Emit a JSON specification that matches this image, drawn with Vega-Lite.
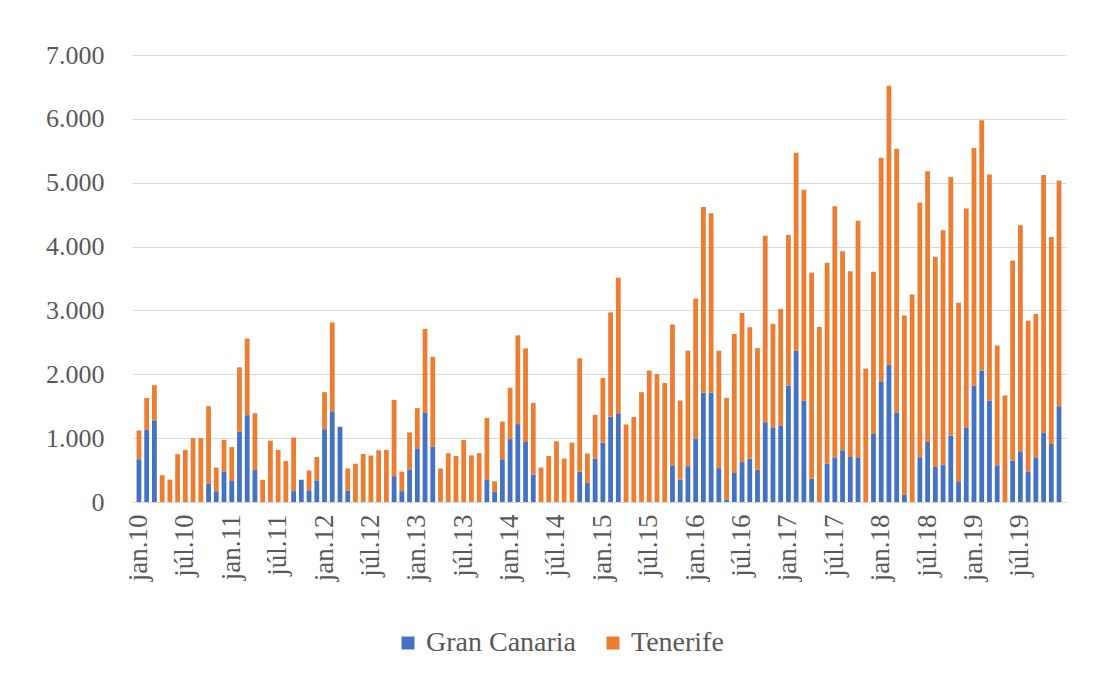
{
  "$schema": "https://vega.github.io/schema/vega-lite/v6.json",
  "width": 934,
  "height": 447,
  "autosize": {"type": "pad"},
  "padding": {"left": 45, "top": 42, "right": 5, "bottom": 5},
  "background": "white",
  "config": {"font": "Liberation Serif", "view": {"stroke": null}},
  "data": {
    "values": [
      {"m": "jan.10", "Gran Canaria": 670, "Tenerife": 450},
      {"m": "feb.10", "Gran Canaria": 1130, "Tenerife": 500},
      {"m": "mar.10", "Gran Canaria": 1280, "Tenerife": 550},
      {"m": "apr.10", "Gran Canaria": 0, "Tenerife": 420},
      {"m": "maí.10", "Gran Canaria": 0, "Tenerife": 350},
      {"m": "jún.10", "Gran Canaria": 0, "Tenerife": 750},
      {"m": "júl.10", "Gran Canaria": 0, "Tenerife": 815},
      {"m": "ágú.10", "Gran Canaria": 0, "Tenerife": 1000},
      {"m": "sep.10", "Gran Canaria": 0, "Tenerife": 1000},
      {"m": "okt.10", "Gran Canaria": 290, "Tenerife": 1210},
      {"m": "nóv.10", "Gran Canaria": 170, "Tenerife": 370},
      {"m": "des.10", "Gran Canaria": 480, "Tenerife": 495},
      {"m": "jan.11", "Gran Canaria": 340, "Tenerife": 520},
      {"m": "feb.11", "Gran Canaria": 1100, "Tenerife": 1010},
      {"m": "mar.11", "Gran Canaria": 1360, "Tenerife": 1200},
      {"m": "apr.11", "Gran Canaria": 500, "Tenerife": 890},
      {"m": "maí.11", "Gran Canaria": 0, "Tenerife": 350},
      {"m": "jún.11", "Gran Canaria": 0, "Tenerife": 960},
      {"m": "júl.11", "Gran Canaria": 0, "Tenerife": 815},
      {"m": "ágú.11", "Gran Canaria": 0, "Tenerife": 640},
      {"m": "sep.11", "Gran Canaria": 170, "Tenerife": 840},
      {"m": "okt.11", "Gran Canaria": 350, "Tenerife": 0},
      {"m": "nóv.11", "Gran Canaria": 185, "Tenerife": 310},
      {"m": "des.11", "Gran Canaria": 340, "Tenerife": 365},
      {"m": "jan.12", "Gran Canaria": 1140, "Tenerife": 580},
      {"m": "feb.12", "Gran Canaria": 1420, "Tenerife": 1390},
      {"m": "mar.12", "Gran Canaria": 1180, "Tenerife": 0},
      {"m": "apr.12", "Gran Canaria": 180, "Tenerife": 345},
      {"m": "maí.12", "Gran Canaria": 0, "Tenerife": 600},
      {"m": "jún.12", "Gran Canaria": 0, "Tenerife": 750},
      {"m": "júl.12", "Gran Canaria": 0, "Tenerife": 730},
      {"m": "ágú.12", "Gran Canaria": 0, "Tenerife": 810},
      {"m": "sep.12", "Gran Canaria": 0, "Tenerife": 815},
      {"m": "okt.12", "Gran Canaria": 405, "Tenerife": 1195},
      {"m": "nóv.12", "Gran Canaria": 170, "Tenerife": 305},
      {"m": "des.12", "Gran Canaria": 510, "Tenerife": 580},
      {"m": "jan.13", "Gran Canaria": 840, "Tenerife": 630},
      {"m": "feb.13", "Gran Canaria": 1405, "Tenerife": 1305},
      {"m": "mar.13", "Gran Canaria": 870, "Tenerife": 1405},
      {"m": "apr.13", "Gran Canaria": 10, "Tenerife": 515},
      {"m": "maí.13", "Gran Canaria": 0, "Tenerife": 765},
      {"m": "jún.13", "Gran Canaria": 0, "Tenerife": 720},
      {"m": "júl.13", "Gran Canaria": 0, "Tenerife": 970},
      {"m": "ágú.13", "Gran Canaria": 0, "Tenerife": 730},
      {"m": "sep.13", "Gran Canaria": 0, "Tenerife": 765},
      {"m": "okt.13", "Gran Canaria": 355, "Tenerife": 960},
      {"m": "nóv.13", "Gran Canaria": 160, "Tenerife": 165},
      {"m": "des.13", "Gran Canaria": 670, "Tenerife": 590},
      {"m": "jan.14", "Gran Canaria": 985, "Tenerife": 805},
      {"m": "feb.14", "Gran Canaria": 1220, "Tenerife": 1390},
      {"m": "mar.14", "Gran Canaria": 940, "Tenerife": 1465},
      {"m": "apr.14", "Gran Canaria": 430, "Tenerife": 1120},
      {"m": "maí.14", "Gran Canaria": 0, "Tenerife": 540},
      {"m": "jún.14", "Gran Canaria": 0, "Tenerife": 720},
      {"m": "júl.14", "Gran Canaria": 0, "Tenerife": 950},
      {"m": "ágú.14", "Gran Canaria": 0, "Tenerife": 680},
      {"m": "sep.14", "Gran Canaria": 0, "Tenerife": 930},
      {"m": "okt.14", "Gran Canaria": 475, "Tenerife": 1775},
      {"m": "nóv.14", "Gran Canaria": 300, "Tenerife": 460},
      {"m": "des.14", "Gran Canaria": 680, "Tenerife": 685},
      {"m": "jan.15", "Gran Canaria": 930, "Tenerife": 1010},
      {"m": "feb.15", "Gran Canaria": 1335, "Tenerife": 1635},
      {"m": "mar.15", "Gran Canaria": 1390, "Tenerife": 2120},
      {"m": "apr.15", "Gran Canaria": 0, "Tenerife": 1215},
      {"m": "maí.15", "Gran Canaria": 0, "Tenerife": 1330},
      {"m": "jún.15", "Gran Canaria": 0, "Tenerife": 1720},
      {"m": "júl.15", "Gran Canaria": 0, "Tenerife": 2060},
      {"m": "ágú.15", "Gran Canaria": 0, "Tenerife": 2005},
      {"m": "sep.15", "Gran Canaria": 0, "Tenerife": 1865},
      {"m": "okt.15", "Gran Canaria": 575, "Tenerife": 2205},
      {"m": "nóv.15", "Gran Canaria": 350, "Tenerife": 1240},
      {"m": "des.15", "Gran Canaria": 560, "Tenerife": 1810},
      {"m": "jan.16", "Gran Canaria": 990, "Tenerife": 2195},
      {"m": "feb.16", "Gran Canaria": 1710, "Tenerife": 2910},
      {"m": "mar.16", "Gran Canaria": 1710, "Tenerife": 2810},
      {"m": "apr.16", "Gran Canaria": 530, "Tenerife": 1840},
      {"m": "maí.16", "Gran Canaria": 40, "Tenerife": 1590},
      {"m": "jún.16", "Gran Canaria": 455, "Tenerife": 2175},
      {"m": "júl.16", "Gran Canaria": 625, "Tenerife": 2335},
      {"m": "ágú.16", "Gran Canaria": 680, "Tenerife": 2055},
      {"m": "sep.16", "Gran Canaria": 505, "Tenerife": 1905},
      {"m": "okt.16", "Gran Canaria": 1250, "Tenerife": 2920},
      {"m": "nóv.16", "Gran Canaria": 1170, "Tenerife": 1620},
      {"m": "des.16", "Gran Canaria": 1200, "Tenerife": 1825},
      {"m": "jan.17", "Gran Canaria": 1820, "Tenerife": 2360},
      {"m": "feb.17", "Gran Canaria": 2370, "Tenerife": 3100},
      {"m": "mar.17", "Gran Canaria": 1590, "Tenerife": 3300},
      {"m": "apr.17", "Gran Canaria": 365, "Tenerife": 3225},
      {"m": "maí.17", "Gran Canaria": 0, "Tenerife": 2740},
      {"m": "jún.17", "Gran Canaria": 600, "Tenerife": 3145},
      {"m": "júl.17", "Gran Canaria": 700, "Tenerife": 3930},
      {"m": "ágú.17", "Gran Canaria": 810, "Tenerife": 3115},
      {"m": "sep.17", "Gran Canaria": 705, "Tenerife": 2910},
      {"m": "okt.17", "Gran Canaria": 690, "Tenerife": 3715},
      {"m": "nóv.17", "Gran Canaria": 0, "Tenerife": 2090},
      {"m": "des.17", "Gran Canaria": 1065, "Tenerife": 2540},
      {"m": "jan.18", "Gran Canaria": 1890, "Tenerife": 3500},
      {"m": "feb.18", "Gran Canaria": 2150, "Tenerife": 4370},
      {"m": "mar.18", "Gran Canaria": 1405, "Tenerife": 4125},
      {"m": "apr.18", "Gran Canaria": 115, "Tenerife": 2805},
      {"m": "maí.18", "Gran Canaria": 0, "Tenerife": 3250},
      {"m": "jún.18", "Gran Canaria": 700, "Tenerife": 3985},
      {"m": "júl.18", "Gran Canaria": 940, "Tenerife": 4240},
      {"m": "ágú.18", "Gran Canaria": 550, "Tenerife": 3290},
      {"m": "sep.18", "Gran Canaria": 585, "Tenerife": 3670},
      {"m": "okt.18", "Gran Canaria": 1040, "Tenerife": 4050},
      {"m": "nóv.18", "Gran Canaria": 315, "Tenerife": 2805},
      {"m": "des.18", "Gran Canaria": 1160, "Tenerife": 3435},
      {"m": "jan.19", "Gran Canaria": 1820, "Tenerife": 3725},
      {"m": "feb.19", "Gran Canaria": 2060, "Tenerife": 3920},
      {"m": "mar.19", "Gran Canaria": 1590, "Tenerife": 3540},
      {"m": "apr.19", "Gran Canaria": 575, "Tenerife": 1875},
      {"m": "maí.19", "Gran Canaria": 0, "Tenerife": 1670},
      {"m": "jún.19", "Gran Canaria": 650, "Tenerife": 3130},
      {"m": "júl.19", "Gran Canaria": 795, "Tenerife": 3540},
      {"m": "ágú.19", "Gran Canaria": 480, "Tenerife": 2360},
      {"m": "sep.19", "Gran Canaria": 700, "Tenerife": 2245},
      {"m": "okt.19", "Gran Canaria": 1090, "Tenerife": 4030},
      {"m": "nóv.19", "Gran Canaria": 910, "Tenerife": 3240},
      {"m": "des.19", "Gran Canaria": 1500, "Tenerife": 3535}
    ]
  },
  "transform": [{"fold": ["Gran Canaria", "Tenerife"], "as": ["serie", "v"]}],
  "mark": {"type": "bar"},
  "encoding": {
    "x": {
      "field": "m",
      "type": "ordinal",
      "sort": null,
      "title": null,
      "scale": {"paddingInner": 0.38, "paddingOuter": 0.59},
      "axis": {
        "values": ["jan.10", "júl.10", "jan.11", "júl.11", "jan.12", "júl.12", "jan.13", "júl.13", "jan.14", "júl.14", "jan.15", "júl.15", "jan.16", "júl.16", "jan.17", "júl.17", "jan.18", "júl.18", "jan.19", "júl.19"],
        "labelAngle": 270,
        "labelFontSize": 27,
        "labelColor": "#595959",
        "labelFont": "Liberation Serif",
        "ticks": false,
        "domain": false,
        "labelPadding": 12
      }
    },
    "y": {
      "field": "v",
      "type": "quantitative",
      "stack": "zero",
      "title": null,
      "scale": {"domain": [0, 7000], "nice": false},
      "axis": {
        "values": [0, 1000, 2000, 3000, 4000, 5000, 6000, 7000],
        "labelExpr": "replace(format(datum.value, ','), ',', '.')",
        "gridColor": "#d9d9d9",
        "gridWidth": 1.2,
        "domain": false,
        "ticks": false,
        "labelFontSize": 26,
        "labelColor": "#595959",
        "labelFont": "Liberation Serif",
        "labelPadding": 28
      }
    },
    "order": {"field": "serie", "sort": "ascending"},
    "color": {
      "field": "serie",
      "type": "nominal",
      "scale": {"domain": ["Gran Canaria", "Tenerife"], "range": ["#4472C4", "#ED7D31"]},
      "legend": {
        "title": null,
        "orient": "none",
        "legendX": 262,
        "legendY": 574,
        "direction": "horizontal",
        "symbolType": "square",
        "symbolSize": 169,
        "symbolStrokeWidth": 0,
        "labelFontSize": 28,
        "labelColor": "#595959",
        "labelFont": "Liberation Serif",
        "columnPadding": 22
      }
    }
  }
}
